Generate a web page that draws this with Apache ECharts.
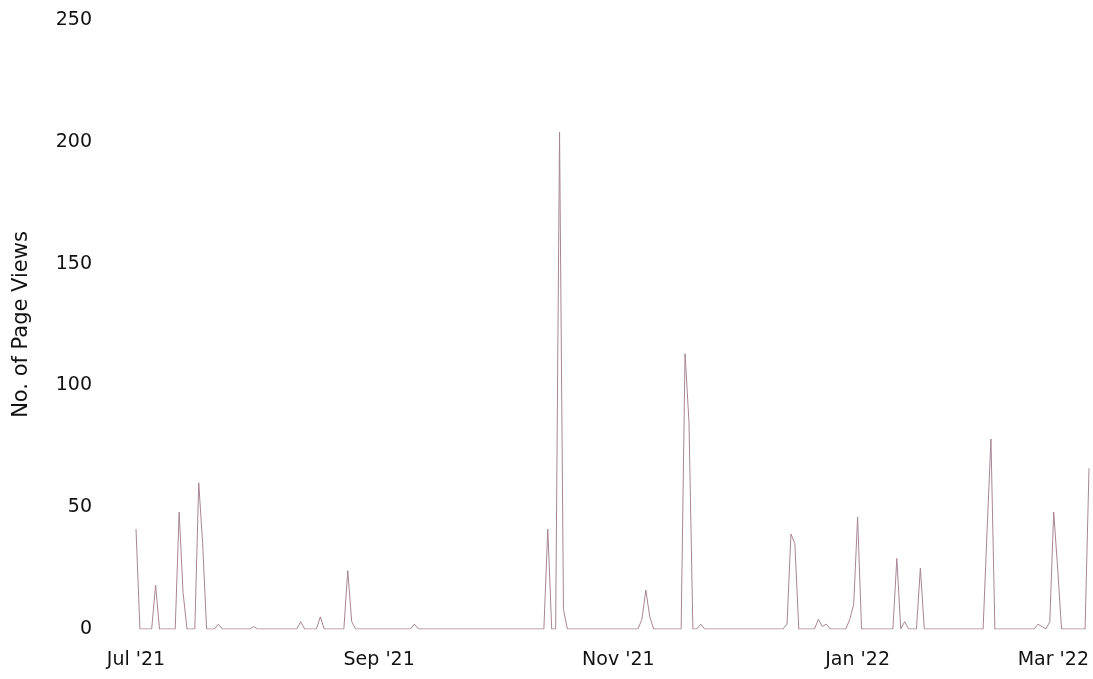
<!DOCTYPE html>
<html>
<head>
<meta charset="utf-8">
<script src="https://cdn.jsdelivr.net/npm/echarts@6/dist/echarts.min.js"></script>
<style>
html,body{margin:0;padding:0;background:#fff;}
#chart{width:1093px;height:679px;}
</style>
</head>
<body>
<div id="chart"></div>
<script>
// Daily page views, 2021-07-01 .. 2022-03-01 (one value per day)
const startDate = '2021-07-01';
const pageViews = [
  41,0,0,0,0,18,0,0,0,0,
  0,48,15,0,0,0,60,35,0,0,
  0,2,0,0,0,0,0,0,0,0,
  1,0,0,0,0,0,0,0,0,0,
  0,0,3,0,0,0,0,5,0,0,
  0,0,0,0,24,3,0,0,0,0,
  0,0,0,0,0,0,0,0,0,0,
  0,2,0,0,0,0,0,0,0,0,
  0,0,0,0,0,0,0,0,0,0,
  0,0,0,0,0,0,0,0,0,0,
  0,0,0,0,0,41,0,0,204,8,
  0,0,0,0,0,0,0,0,0,0,
  0,0,0,0,0,0,0,0,0,4,
  16,5,0,0,0,0,0,0,0,0,
  113,85,0,0,2,0,0,0,0,0,
  0,0,0,0,0,0,0,0,0,0,
  0,0,0,0,0,0,2,39,35,0,
  0,0,0,0,4,1,2,0,0,0,
  0,0,4,10,46,0,0,0,0,0,
  0,0,0,0,29,0,3,0,0,0,
  25,0,0,0,0,0,0,0,0,0,
  0,0,0,0,0,0,0,40,78,0,
  0,0,0,0,0,0,0,0,0,0,
  2,1,0,3,48,25,0,0,0,0,
  0,0,0,66
];
const tickDates = ['2021-07-01','2021-09-01','2021-11-01','2022-01-01','2022-03-01'];
const tickLabels = ["Jul '21","Sep '21","Nov '21","Jan '22","Mar '22"];
const yTicks = [0,50,100,150,200,250];

// Build day categories
const days = [];
(function(){
  const d = new Date(startDate + 'T00:00:00Z');
  for (let i = 0; i < pageViews.length; i++) {
    days.push(d.toISOString().slice(0,10));
    d.setUTCDate(d.getUTCDate() + 1);
  }
})();
const labelMap = {};
tickDates.forEach((t,i)=>{ labelMap[t] = tickLabels[i]; });

const FONT = '"DejaVu Sans", "Open Sans", sans-serif';
const chart = echarts.init(document.getElementById('chart'), null, {renderer:'canvas'});
chart.setOption({
  animation: false,
  backgroundColor: '#ffffff',
  grid: {left: 136, right: 4, top: 20, bottom: 50, containLabel: false},
  xAxis: {
    type: 'category',
    data: days,
    boundaryGap: false,
    axisLine: {show: false},
    axisTick: {show: false},
    splitLine: {show: false},
    axisLabel: {
      interval: function(idx, val){ return labelMap[val] !== undefined; },
      formatter: function(val){ return labelMap[val] || ''; },
      color: '#111111',
      fontFamily: FONT,
      fontSize: 19,
      margin: 22,
      alignMaxLabel: 'right',
      showMaxLabel: true,
      showMinLabel: true
    }
  },
  yAxis: {
    type: 'value',
    min: yTicks[0],
    max: yTicks[yTicks.length-1],
    interval: 50,
    name: 'No. of Page Views',
    nameLocation: 'middle',
    nameGap: 104,
    nameRotate: 90,
    nameTextStyle: {color: '#111111', fontFamily: FONT, fontSize: 21},
    axisLine: {show: false},
    axisTick: {show: false},
    splitLine: {show: false},
    axisLabel: {color: '#111111', fontFamily: FONT, fontSize: 19, margin: 44}
  },
  series: [{
    type: 'line',
    data: pageViews,
    showSymbol: false,
    symbol: 'none',
    lineStyle: {color: '#a88594', width: 1},
    itemStyle: {color: '#a88594'}
  }]
});
</script>
</body>
</html>
